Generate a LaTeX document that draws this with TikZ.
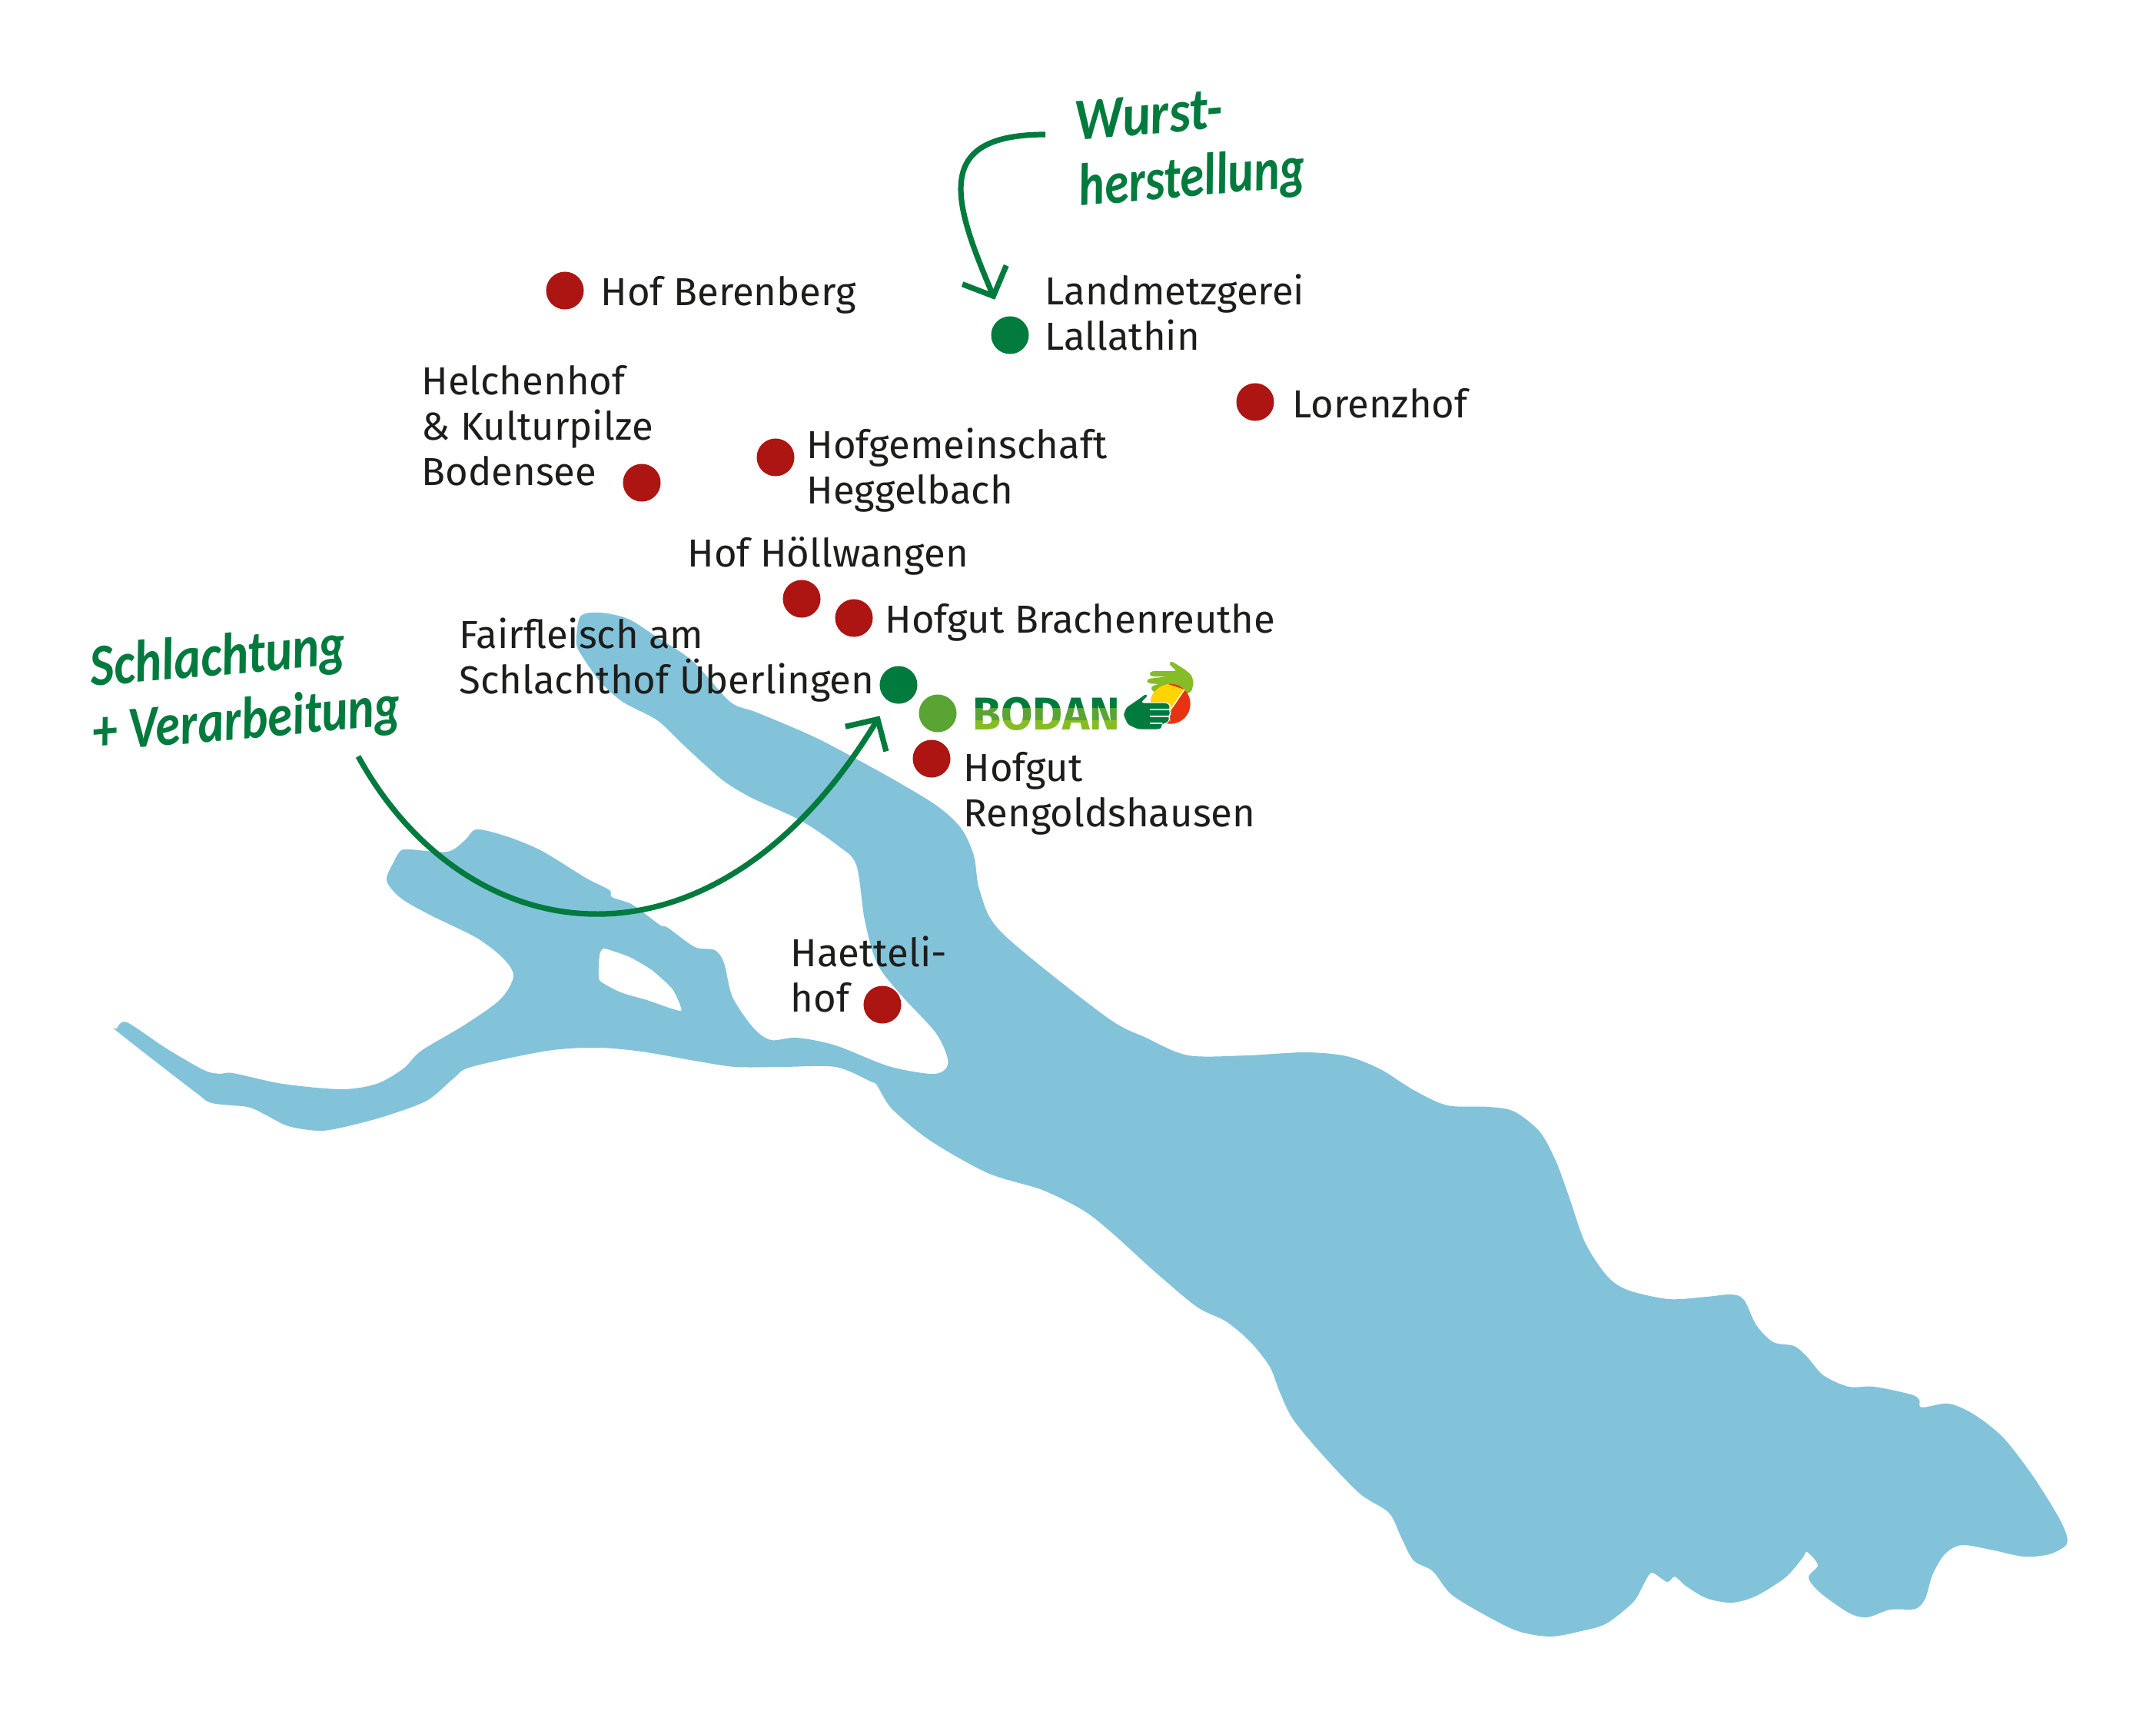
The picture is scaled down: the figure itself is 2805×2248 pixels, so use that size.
\documentclass[tikz,border=0pt]{standalone}
\usepackage{fontspec}
\usepackage{graphicx}
\setmainfont{Fira Sans}
\newfontfamily\handfont{Carlito}
\usetikzlibrary{arrows.meta}
\definecolor{lakeblue}{RGB}{130,195,218}
\definecolor{hofred}{RGB}{172,21,17}
\definecolor{fairgreen}{RGB}{0,122,61}
\definecolor{bodangreen}{RGB}{89,164,51}
\definecolor{lightgreen}{RGB}{134,188,37}
\definecolor{sunyellow}{RGB}{255,213,0}
\definecolor{sunred}{RGB}{230,51,18}
\definecolor{labelblack}{RGB}{29,29,27}

\begin{document}
\begin{tikzpicture}[x=0.01cm,y=-0.01cm]
    \tikzstyle{dot}=[circle,minimum size=0.49cm,inner sep=0pt]
    \tikzstyle{hof}=[dot,fill=hofred]
    \tikzstyle{metzger}=[dot,fill=fairgreen]
    \tikzstyle{bodan}=[dot,fill=bodangreen]
    \tikzstyle{annot}=[anchor=base west,align=left,inner sep=0pt,text=labelblack,font=\fontsize{14.45}{16.7}\selectfont]
    \tikzstyle{hand}=[anchor=base west,inner sep=0pt,rotate=5,text=fairgreen,font=\handfont\bfseries\itshape\fontsize{22}{22}\selectfont]
    \tikzstyle{flow}=[-{Straight Barb[length=0.3cm,width=0.62cm]},draw=fairgreen,line width=0.072cm]
    \tikzstyle{logoline}=[draw=white,line width=0.014cm]
    \useasboundingbox (0,0) rectangle (2805,2248);

    % Draw the lake
    \fill[lakeblue] plot[smooth cycle,tension=0.5] coordinates {
        (165,1330) (215,1363) (265,1392) (287,1397) (303,1396) (368,1410) (444,1417)
        (490,1410) (525,1390) (548,1367) (605,1333) (651,1300) (668,1270) (655,1247)
        (620,1220) (559,1190) (521,1168) (503,1145) (513,1120) (521,1107) (532,1105)
        (582,1108) (605,1093) (620,1079) (659,1088) (705,1107) (762,1142) (793,1158)
        (796,1167) (823,1177) (858,1203) (869,1207) (904,1232) (930,1236) (942,1253)
        (953,1297) (980,1337) (1003,1353) (1037,1350) (1087,1360) (1156,1387) (1210,1397)
        (1229,1392) (1233,1377) (1217,1343) (1171,1293) (1141,1253) (1125,1197) (1114,1125)
        (1090,1100) (1041,1067) (978,1038) (943,1017) (915,993) (887,967) (855,937)
        (810,913) (781,887) (757,853) (750,837) (755,802) (781,797) (817,805) (852,827)
        (901,860) (950,913) (985,927) (1062,960) (1150,1007) (1217,1047) (1250,1077)
        (1267,1113) (1275,1160) (1304,1214) (1438,1322) (1491,1350) (1546,1373) (1622,1373)
        (1698,1369) (1752,1374) (1796,1391) (1839,1418) (1883,1438) (1937,1440) (1970,1446)
        (2003,1472) (2024,1510) (2041,1556) (2062,1616) (2090,1659) (2117,1678) (2171,1690)
        (2220,1687) (2253,1684) (2269,1691) (2285,1724) (2307,1746) (2334,1751) (2351,1765)
        (2372,1789) (2405,1804) (2438,1804) (2486,1814) (2497,1821) (2500,1831) (2535,1826)
        (2568,1840) (2606,1870) (2644,1919) (2675,1968) (2688,1995) (2688,2010) (2666,2022)
        (2633,2025) (2590,2016) (2552,2010) (2530,2022) (2514,2049) (2505,2079) (2492,2093)
        (2459,2094) (2429,2104) (2405,2098) (2367,2071) (2353,2052) (2365,2036) (2351,2019)
        (2345,2027) (2323,2052) (2285,2076) (2253,2085) (2220,2079) (2193,2063) (2179,2051)
        (2169,2058) (2149,2046) (2139,2060) (2125,2084) (2090,2112) (2057,2122) (2017,2129)
        (1975,2122) (1932,2101) (1888,2074) (1864,2044) (1839,2030) (1823,2000) (1807,1968)
        (1769,1943) (1720,1892) (1682,1846) (1665,1811) (1652,1778) (1627,1746) (1595,1719)
        (1557,1700) (1502,1654) (1448,1605) (1410,1575) (1356,1548) (1285,1526) (1209,1483)
        (1160,1442) (1141,1412) (1133,1407) (1087,1388) (1018,1388) (957,1388) (904,1380)
        (835,1368) (777,1363) (712,1367) (613,1388) (590,1403) (555,1432) (498,1453)
        (444,1467) (414,1471) (375,1465) (345,1450) (322,1440) (276,1435) (253,1420)
        (154,1343) (152,1338)};
    \fill[white] plot[smooth cycle,tension=0.3] coordinates {
        (786,1234) (819,1245) (848,1262) (875,1287) (886,1315) (842,1301) (808,1291)
        (780,1275) (780,1243)};

    % Draw the farms
    \node[hof] (H-1) at (735,378) {};
    \node[hof] (H-2) at (1633,523) {};
    \node[hof] (H-3) at (835,628) {};
    \node[hof] (H-4) at (1009,595) {};
    \node[hof] (H-5) at (1043,779) {};
    \node[hof] (H-6) at (1111,804) {};
    \node[hof] (H-7) at (1212,987) {};
    \node[hof] (H-8) at (1148,1307) {};

    % Draw the butcher and the slaughterhouse
    \node[metzger] (M-1) at (1314,436) {};
    \node[metzger] (M-2) at (1169,891) {};
    \node[bodan] (B-1) at (1220,928) {};

    % Annotate the dots
    \node[annot] (L-1) at (781,397) {Hof Berenberg};
    \node[annot] (L-2) at (1681,543) {Lorenzhof};
    \node[annot] (L-3) at (548,631) {Helchenhof\\\& Kulturpilze\\Bodensee};
    \node[annot] (L-4) at (1049,655) {Hofgemeinschaft\\Heggelbach};
    \node[annot] (L-5) at (894,737) {Hof Höllwangen};
    \node[annot] (L-6) at (1151,823) {Hofgut Brachenreuthe};
    \node[annot] (L-7) at (1253,1075) {Hofgut\\Rengoldshausen};
    \node[annot] (L-8) at (1028,1316) {Haetteli-\\hof};
    \node[annot] (L-9) at (1359,455) {Landmetzgerei\\Lallathin};
    \node[annot] (L-10) at (597,902) {Fairfleisch am\\Schlachthof Überlingen};

    % Draw the hand written notes and their arrows
    \node[hand] (wurst) at (1400,183) {\scalebox{.9}[1]{Wurst-}};
    \node[hand] (herstellung) at (1405,268) {\scalebox{.82}[1]{herstellung}};
    \node[hand] (schlachtung) at (119,893) {\scalebox{.855}[1]{Schlachtung}};
    \node[hand] (verarbeitung) at (122,978) {\scalebox{.84}[1]{+ Verarbeitung}};
    \coordinate (wurst-start) at (1360,175);
    \coordinate (schlacht-start) at (466,984);
    \draw[flow,shorten >=0.25cm] (wurst-start) .. controls (1212,175) and (1240,262) .. (M-1);
    \draw[flow,shorten >=0.22cm] (schlacht-start) .. controls (610,1245) and (930,1285) .. (M-2);

    % Draw the logo
    \foreach \band/\ya/\yb in {fairgreen/900/921,bodangreen/921/937,lightgreen/937/955}
    {
        \begin{scope}
            \clip (1260,\ya) rectangle (1455,\yb);
            \node[anchor=base west,inner sep=0pt,text=\band,font=\bfseries\fontsize{17}{17}\selectfont] (logo-\ya) at (1265,949) {BODAN};
        \end{scope}
    }
    \fill[lightgreen,rounded corners=0.03cm] (1524,860) -- (1521,863) -- (1523,866) -- (1531,873) -- (1498,873) -- (1495,877) -- (1498,880) -- (1520,880)
        -- (1494,883) -- (1492,886) -- (1494,889) -- (1508,890) -- (1500,892) -- (1497,895) -- (1500,900) -- (1517,900) -- (1543,903) -- (1550,900)
        -- (1553,888) -- (1550,878) -- (1540,870) -- cycle;
    \fill[sunred] (1522.7,915.7) circle (0.26cm);
    \begin{scope}
        \clip (1446,866) -- (1541,897) -- (1522,925) -- (1470,940) -- cycle;
        \fill[sunyellow] (1522.7,915.7) circle (0.26cm);
    \end{scope}
    \draw[logoline] (1541,897) -- (1522,925);
    \filldraw[fill=fairgreen,draw=white,line width=0.01cm,rounded corners=0.03cm] (1491,902) -- (1494,905) -- (1485,914) -- (1518,914) -- (1523,918) -- (1521,923)
        -- (1523,928) -- (1521,932) -- (1522,936) -- (1518,941) -- (1512,942) -- (1512,947) -- (1509,949) -- (1480,949) -- (1467,943) -- (1461,930)
        -- (1465,920) -- (1477,912) -- cycle;
    \draw[logoline] (1496,923) -- (1521,923) (1496,932) -- (1521,932) (1496,941) -- (1512,941);

\end{tikzpicture}
\end{document}
